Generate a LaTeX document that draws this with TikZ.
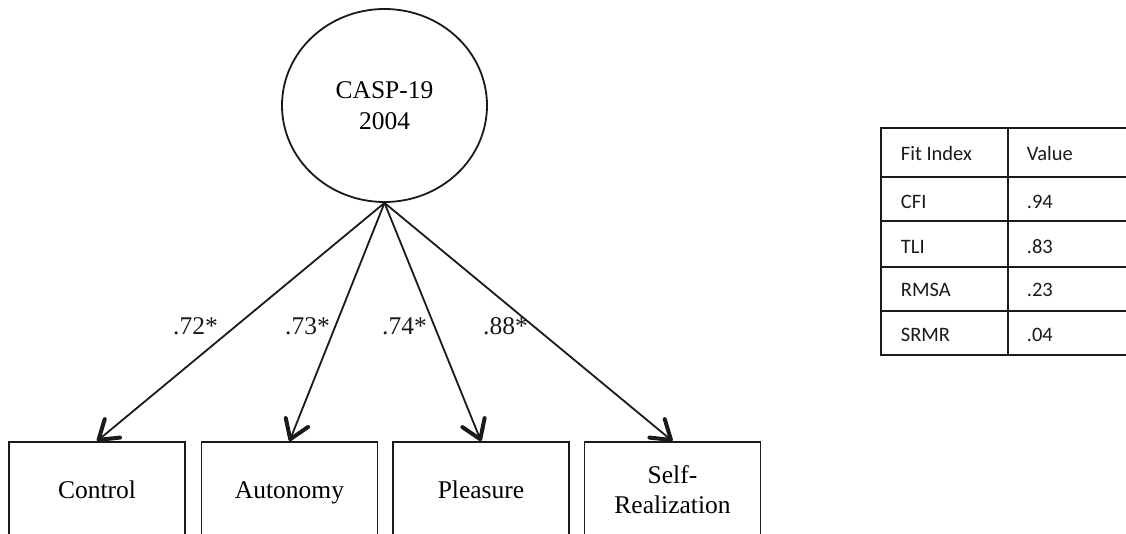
\documentclass[tikz,border=0pt]{standalone}
\usepackage{fontspec}
\setmainfont{Liberation Serif}
\newfontfamily\tabfont{Carlito}
\usetikzlibrary{arrows.meta,shapes.geometric}
\definecolor{ink}{HTML}{1A1A1A}

\begin{document}
\begin{tikzpicture}[x=1pt,y=-1pt,
  latent/.style={draw=ink, ellipse, minimum width=205pt, minimum height=193pt,
    inner sep=0pt, line width=1.8pt, align=center,
    font=\fontsize{25.5}{31.5}\selectfont},
  indicator/.style={draw=ink, rectangle, minimum width=176pt, minimum height=100pt,
    inner sep=0pt, line width=1.8pt, align=center,
    font=\fontsize{25.5}{30}\selectfont},
  loading/.style={draw=ink, line width=1.8pt,
    -{Straight Barb[length=18pt,width=24pt,line width=4pt,round]}},
  coef/.style={anchor=base west, inner sep=0pt, text=ink,
    font=\fontsize{25.5}{30}\selectfont},
  grid/.style={draw=ink, line width=2pt},
  cell/.style={anchor=base west, inner sep=0pt, text=ink,
    font=\tabfont\fontsize{20.5}{24}\selectfont}]

\useasboundingbox[fill=white] (0,0) rectangle (1126,533);

% latent factor
\node[latent] (casp) at (384.5,105.5) {CASP-19\\2004};

% observed indicators (bottoms run past the page edge)
\node[indicator] (ctrl) at (97,492) {Control\strut};
\node[indicator] (auto) at (289.5,492) {Autonomy\strut};
\node[indicator] (plea) at (481,492) {Pleasure\strut};
\node[indicator] (self) at (672.5,492) {Self-\strut\\Realization\strut};

% factor loadings
\draw[loading] (casp.south) -- (ctrl.north);
\draw[loading] (casp.south) -- (auto.north);
\draw[loading] (casp.south) -- (plea.north);
\draw[loading] (casp.south) -- (self.north);

\node[coef] (l1) at (173,334) {.72*};
\node[coef] (l2) at (285,334) {.73*};
\node[coef] (l3) at (382,334) {.74*};
\node[coef] (l4) at (483,334) {.88*};

% fit index table
\coordinate (tl) at (880.7,128.3);
\coordinate (br) at (1132,355);
\draw[grid] (tl) rectangle (br);
\draw[grid] (1007.7,128.3) -- (1007.7,355);
\foreach \y in {177.3,220.7,266.7,311} \draw[grid] (880.7,\y) -- (1132,\y);

\node[cell] (h1) at (900.7,160) {Fit Index};
\node[cell] (h2) at (1026.7,160) {Value};
\node[cell] (r1a) at (900.7,208.3) {CFI};
\node[cell] (r1b) at (1026.7,208.3) {.94};
\node[cell] (r2a) at (900.7,253.3) {TLI};
\node[cell] (r2b) at (1026.7,253.3) {.83};
\node[cell] (r3a) at (900.7,296.7) {RMSA};
\node[cell] (r3b) at (1026.7,296.7) {.23};
\node[cell] (r4a) at (900.7,341.7) {SRMR};
\node[cell] (r4b) at (1026.7,341.7) {.04};
\end{tikzpicture}
\end{document}
